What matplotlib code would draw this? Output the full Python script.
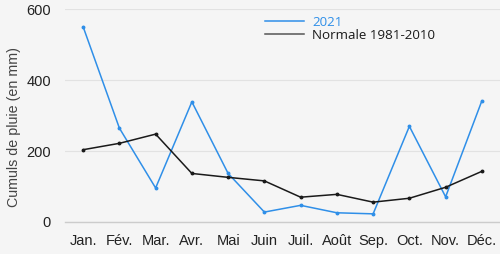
import matplotlib
matplotlib.use("Agg")
import matplotlib.pyplot as plt

months = ["Jan.", "Fév.", "Mar.", "Avr.", "Mai", "Juin", "Juil.", "Août", "Sep.", "Oct.", "Nov.", "Déc."]
rain_2021 = [551, 265, 96, 339, 137, 28, 47, 26, 23, 270, 71, 342]
normale = [204, 222, 248, 137, 126, 116, 70, 78, 56, 67, 98, 143]
yticks = [0, 200, 400, 600]

bg = "#f5f5f5"
fig = plt.figure(figsize=(5, 2.54), dpi=100, facecolor=bg)
ax = fig.add_axes([0.13, 0.126, 0.87, 0.837], facecolor=bg)

x = list(range(len(months)))
ax.plot(x, rain_2021, color="#2f8fe8", lw=1.1, marker="o", ms=1.8, label="2021", clip_on=False, zorder=3)
ax.plot(x, normale, color="#1a1a1a", lw=1.1, marker="o", ms=1.8, label="Normale 1981-2010", clip_on=False, zorder=3)

ax.set_xlim(-0.5, 11.5)
ax.set_ylim(0, 600)
ax.set_yticks(yticks)
ax.set_xticks(x)
ax.set_xticklabels(months, fontfamily="Liberation Sans", fontsize=10.5, color="#222222")
ax.set_yticklabels([str(v) for v in yticks], fontfamily="Liberation Sans", fontsize=10.5, color="#222222")
ax.tick_params(axis="x", length=0, pad=9)
ax.tick_params(axis="y", length=0, pad=10)
ax.grid(axis="y", color="#e2e2e2", lw=0.8)
ax.set_axisbelow(True)
for s in ["top", "right", "left"]:
    ax.spines[s].set_visible(False)
ax.spines["bottom"].set_color("#cccccc")
ax.spines["bottom"].set_linewidth(1.0)
ax.set_ylabel("Cumuls de pluie (en mm)", fontfamily="Liberation Sans", fontsize=10.3, color="#444444")
ax.yaxis.set_label_coords(-0.102, 0.447)

leg = ax.legend(loc="upper left", bbox_to_anchor=(0.445, 1.0), frameon=False,
                prop={"family": "Open Sans", "size": 9.6}, handlelength=2.9,
                handletextpad=0.6, labelspacing=0.0, borderaxespad=0.1)
for t, c in zip(leg.get_texts(), ["#2f8fe8", "#1a1a1a"]):
    t.set_color(c)
for h in leg.get_lines():
    h.set_marker("")
leg.get_lines()[1].set_color("#555555")

fig.savefig("out.png", dpi=100, facecolor=bg)
